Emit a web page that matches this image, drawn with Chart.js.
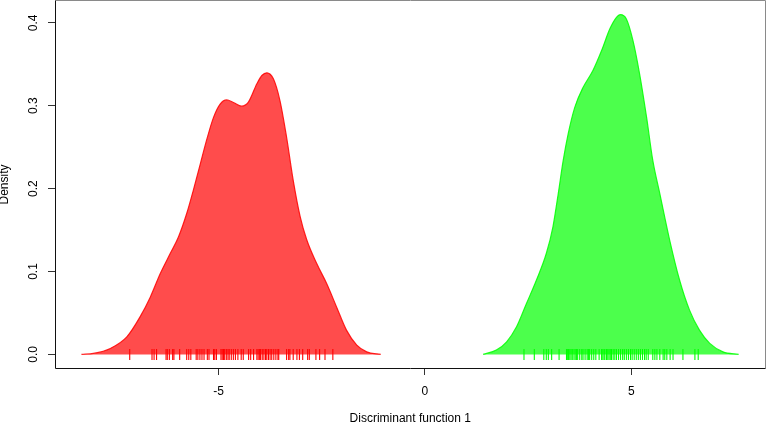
<!DOCTYPE html>
<html>
<head>
<meta charset="utf-8">
<script src="https://cdn.jsdelivr.net/npm/chart.js@4/dist/chart.umd.min.js"></script>
<style>
  html, body { margin: 0; padding: 0; background: #fff; }
  #wrap { width: 767px; height: 423px; position: relative; }
</style>
</head>
<body>
<div id="wrap"><canvas id="c" width="767" height="423"></canvas></div>
<script>
// ---- data ----
const redX = [-8.32, -8.03, -7.62, -7.22, -6.90, -6.65, -6.41, -6.17, -5.97, -5.77, -5.61, -5.44, -5.28, -5.12, -4.96, -4.80, -4.64, -4.44, -4.28, -4.07, -3.95, -3.83, -3.67, -3.51, -3.35, -3.19, -3.02, -2.86, -2.62, -2.38, -2.14, -1.90, -1.65, -1.41, -1.07];
const redDensity = [0, 0.0012, 0.0072, 0.0212, 0.0453, 0.0694, 0.0976, 0.1217, 0.1417, 0.170, 0.198, 0.230, 0.260, 0.286, 0.302, 0.307, 0.304, 0.2995, 0.304, 0.3265, 0.3365, 0.3398, 0.3325, 0.306, 0.262, 0.210, 0.166, 0.138, 0.1096, 0.0855, 0.0573, 0.0293, 0.0112, 0.0031, 0];

const greenX = [1.41, 1.73, 1.98, 2.22, 2.46, 2.70, 2.94, 3.10, 3.23, 3.35, 3.47, 3.63, 3.83, 4.07, 4.28, 4.48, 4.64, 4.73, 4.88, 5.04, 5.20, 5.37, 5.52, 5.69, 5.93, 6.17, 6.41, 6.65, 6.90, 7.22, 7.60];
const greenDensity = [0, 0.0052, 0.0152, 0.0333, 0.0614, 0.0895, 0.1217, 0.1537, 0.194, 0.234, 0.266, 0.298, 0.322, 0.3425, 0.3666, 0.3928, 0.4067, 0.410, 0.4048, 0.3787, 0.3386, 0.286, 0.234, 0.194, 0.1377, 0.0895, 0.0534, 0.0293, 0.0133, 0.0031, 0];

const redRug = [-7.15, -6.61, -6.56, -6.50, -6.27, -6.24, -6.19, -6.11, -6.08, -5.94, -5.77, -5.72, -5.67, -5.54, -5.50, -5.45, -5.40, -5.35, -5.27, -5.23, -5.12, -5.09, -5.05, -4.94, -4.91, -4.88, -4.85, -4.81, -4.77, -4.74, -4.69, -4.64, -4.59, -4.53, -4.45, -4.40, -4.27, -4.22, -4.15, -4.07, -4.04, -4.01, -3.98, -3.94, -3.90, -3.86, -3.83, -3.79, -3.75, -3.71, -3.66, -3.61, -3.56, -3.54, -3.35, -3.30, -3.27, -3.19, -3.10, -3.04, -2.96, -2.84, -2.80, -2.64, -2.55, -2.42, -2.23];
const greenRug = [2.40, 2.65, 2.88, 2.94, 2.99, 3.07, 3.25, 3.43, 3.45, 3.48, 3.51, 3.54, 3.57, 3.61, 3.64, 3.67, 3.70, 3.75, 3.80, 3.83, 3.88, 3.93, 3.96, 3.99, 4.04, 4.09, 4.14, 4.22, 4.28, 4.31, 4.34, 4.36, 4.40, 4.43, 4.46, 4.49, 4.52, 4.56, 4.60, 4.64, 4.69, 4.74, 4.79, 4.83, 4.88, 4.93, 4.98, 5.02, 5.07, 5.12, 5.17, 5.22, 5.27, 5.32, 5.36, 5.41, 5.52, 5.57, 5.62, 5.69, 5.77, 5.81, 5.86, 5.94, 6.01, 6.25, 6.54, 6.62];

const xTicks = [-5, 0, 5];
const yTicks = [0, 0.1, 0.2, 0.3, 0.4];
const xTitle = 'Discriminant function 1';
const yTitle = 'Density';

// ---- build library structures ----
const pts = (xs, ys) => xs.map((x, i) => ({ x: x, y: ys[i] }));
const rugPts = xs => xs.map(x => ({ x: x, y: 0 }));

const FONT = { family: '"Liberation Sans", Arial, Helvetica, sans-serif', size: 12 };

const boxPlugin = {
  id: 'box',
  afterDraw(chart) {
    const a = chart.chartArea, ctx = chart.ctx;
    const l = Math.round(a.left) + 0.5, r = Math.round(a.right) - 0.5;
    const t = Math.round(a.top) - 0.5, b = Math.round(a.bottom) + 0.5;
    ctx.save();
    ctx.lineWidth = 1;
    ctx.strokeStyle = '#8a8a8a';
    ctx.beginPath();
    ctx.moveTo(l, t); ctx.lineTo(r, t); ctx.lineTo(r, b);
    ctx.stroke();
    ctx.strokeStyle = '#111';
    ctx.beginPath();
    ctx.moveTo(l, t); ctx.lineTo(l, b); ctx.lineTo(r, b);
    ctx.stroke();
    ctx.restore();
  }
};

function noPad(s) {
  s.paddingTop = 0; s.paddingBottom = 0; s.paddingLeft = 0; s.paddingRight = 0;
}

new Chart(document.getElementById('c'), {
  type: 'scatter',
  data: {
    datasets: [
      { data: rugPts(redRug), pointStyle: 'line', rotation: 90, pointRadius: 5.5, borderColor: '#ff0000', borderWidth: 1.1, order: 0 },
      { data: rugPts(greenRug), pointStyle: 'line', rotation: 90, pointRadius: 5.5, borderColor: '#00ff00', borderWidth: 1.1, order: 0 },
      { data: pts(redX, redDensity), showLine: true, fill: 'origin', backgroundColor: 'rgba(255,0,0,0.7)', borderColor: 'rgba(255,0,0,0.85)', borderWidth: 1.2, pointRadius: 0, cubicInterpolationMode: 'monotone', order: 1 },
      { data: pts(greenX, greenDensity), showLine: true, fill: 'origin', backgroundColor: 'rgba(0,255,0,0.7)', borderColor: 'rgba(0,255,0,0.85)', borderWidth: 1.2, pointRadius: 0, cubicInterpolationMode: 'monotone', order: 1 }
    ]
  },
  options: {
    responsive: false,
    animation: false,
    events: [],
    layout: { autoPadding: false, padding: { top: 1, right: 1.5, left: 0, bottom: 0 } },
    plugins: { legend: { display: false }, tooltip: { enabled: false } },
    scales: {
      x: {
        type: 'linear', min: -8.96, max: 8.25,
        afterBuildTicks: s => { s.ticks = xTicks.map(v => ({ value: v })); },
        afterFit: s => { s.height = 55; noPad(s); },
        grid: { drawOnChartArea: false, drawTicks: true, tickLength: 7, color: '#333' },
        border: { display: false },
        ticks: { font: FONT, color: '#000', padding: 9, maxRotation: 0, autoSkip: false, callback: v => String(v) },
        title: { display: true, text: xTitle, font: FONT, color: '#000', padding: { top: 0, bottom: -3 } }
      },
      y: {
        type: 'linear', min: -0.0164, max: 0.4264,
        afterBuildTicks: s => { s.ticks = yTicks.map(v => ({ value: v })); },
        afterFit: s => { s.width = 55; noPad(s); },
        grid: { drawOnChartArea: false, drawTicks: true, tickLength: 7, color: '#333' },
        border: { display: false },
        ticks: { font: FONT, color: '#000', padding: 6, minRotation: 90, maxRotation: 90, crossAlign: 'center', autoSkip: false, callback: v => v.toFixed(1) },
        title: { display: true, text: yTitle, font: FONT, color: '#000', padding: { top: -3, bottom: 0 } }
      }
    }
  },
  plugins: [boxPlugin]
});
</script>
</body>
</html>
